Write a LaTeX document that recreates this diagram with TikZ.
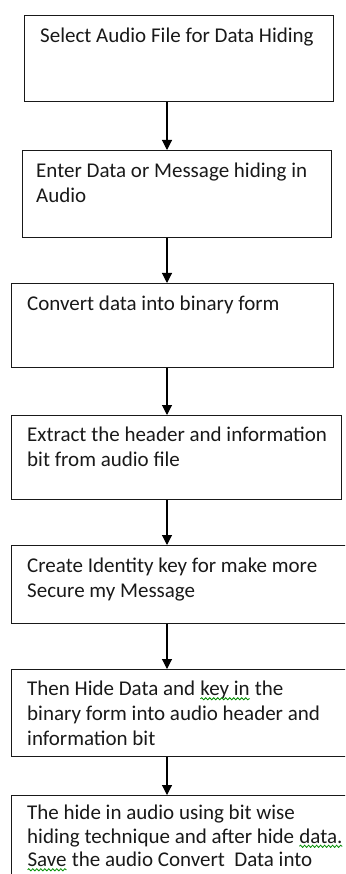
\documentclass[tikz,border=0pt]{standalone}
\usepackage{fontspec}
\setmainfont{Carlito}
\usepackage{tikz}
\usetikzlibrary{arrows.meta, calc, decorations.pathmorphing}

\tikzset{
    procbox/.style={draw=black!90, line width=1.1pt, inner sep=0pt, anchor=north west},
    proctext/.style={anchor=north west, inner sep=0pt, align=left, text=black!90,
        font=\fontsize{21}{25}\selectfont},
    flowarrow/.style={line width=1.1pt, -{Triangle[width=10pt,length=10pt]}},
    squiggle/.style={draw=green!55!black, line width=0.8pt, decorate,
        decoration={snake, amplitude=1.1pt, segment length=4pt}}
}

% green spell-check squiggle under a word
\newcommand\spellmark[1]{\tikz[baseline=(word.base), x=1pt, y=1pt]{%
    \node[inner sep=0pt, outer sep=0pt] (word) {#1};
    \draw[squiggle] ([yshift=-3pt]word.base west) -- ([yshift=-3pt]word.base east);}}

\begin{document}
\begin{tikzpicture}[x=1pt, y=-1pt]
        \path[use as bounding box] (0,0) rectangle (345,874);
        \clip (0,0) rectangle (345,874);

        % Cột của các mũi tên
        \coordinate (axis) at (167,0);

        % 1. Các hộp của lưu đồ
        \node[procbox, minimum width=309pt, minimum height=86pt] (select) at (24,15) {};
        \node[procbox, minimum width=309pt, minimum height=87pt] (enter) at (22,150) {};
        \node[procbox, minimum width=322pt, minimum height=84pt] (convert) at (11,283) {};
        \node[procbox, minimum width=330pt, minimum height=84pt] (extract) at (11,415) {};
        \node[procbox, minimum width=350pt, minimum height=78pt] (identity) at (11,545) {};
        \node[procbox, minimum width=350pt, minimum height=87pt] (hide) at (11,669) {};
        \node[procbox, minimum width=350pt, minimum height=110pt] (save) at (11,795) {};

        % 2. Chữ trong các hộp
        \node[proctext] (selecttext) at ([xshift=16pt, yshift=-13pt]select.north west)
            {Select Audio File for Data Hiding};
        \node[proctext] (entertext) at ([xshift=14pt, yshift=-13pt]enter.north west)
            {Enter Data or Message hiding in\\Audio};
        \node[proctext] (converttext) at ([xshift=16pt, yshift=-13pt]convert.north west)
            {Convert data into binary form};
        \node[proctext] (extracttext) at ([xshift=16pt, yshift=-12pt]extract.north west)
            {Extract the header and information\\bit from audio file};
        \node[proctext] (identitytext) at ([xshift=16pt, yshift=-13pt]identity.north west)
            {Create Identity key for make more\\Secure my Message};
        \node[proctext] (hidetext) at ([xshift=16pt, yshift=-12pt]hide.north west)
            {Then Hide Data and \spellmark{key in} the\\binary form into audio header and\\information bit};
        \node[proctext, font=\fontsize{21}{23.5}\selectfont] (savetext) at ([xshift=16pt, yshift=-10pt]save.north west)
            {The hide in audio using bit wise\\hiding technique and after hide \spellmark{data.}\\\spellmark{Save} the audio Convert~ Data into};

        % 3. Mũi tên nối các bước
        \foreach \from/\to in {select/enter, enter/convert, convert/extract,
                               extract/identity, identity/hide, hide/save} {
            \draw[flowarrow] (\from.south -| axis) -- (\to.north -| axis);
        }

    \end{tikzpicture}
\end{document}
